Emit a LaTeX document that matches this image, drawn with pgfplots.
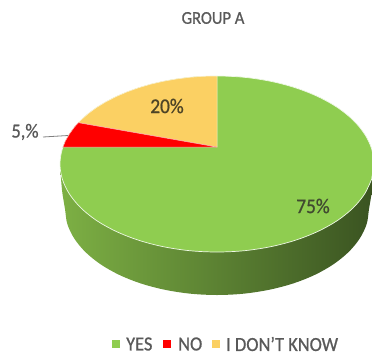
\documentclass[border=0pt]{standalone}
\usepackage{fontspec}
\setmainfont{Carlito}[FakeStretch=0.92, FakeBold=0.8]
\usepackage{pgfplots}
\pgfplotsset{compat=1.18}
\definecolor{leaf}{HTML}{8FCD50}
\definecolor{wallL}{HTML}{7DB044}
\definecolor{wallM}{HTML}{5E8134}
\definecolor{wallR}{HTML}{3A5321}
\definecolor{sun}{HTML}{FBD063}
\definecolor{ink}{HTML}{595959}
\definecolor{dark}{HTML}{404A30}
\definecolor{umber}{HTML}{4D4426}
\begin{document}
\begin{tikzpicture}
\begin{axis}[
  at={(0,0)}, anchor=south west,
  scale only axis, width=372pt, height=356pt,
  xmin=0, xmax=372, ymin=0, ymax=356, y dir=reverse,
  hide axis, clip=true,
]
% side wall of the disc
\addplot[smooth, tension=0.55, draw=none, left color=wallL, middle color=wallM, right color=wallR] coordinates {
 (60,164)(62,190)(65,209)(67.3,223.9)(74.2,238.4)(85.4,252)(100.6,264.3)(119.3,274.9)(141,283.5)(165,289.8)(190.6,293.7)(217,295)
 (243.4,293.7)(269,289.8)(293,283.5)(314.7,274.9)(333.4,264.3)(348.6,252)(359.8,238.4)(366.7,223.9)(369,209)(372,190)(374,164)} -- cycle;
% top face: YES, 75%
\addplot[smooth, tension=0.55, fill=leaf, draw=white!85!leaf, line width=0.7pt] coordinates {
 (374,164)(371.6,148.7)(364.5,133.9)(353,120)(337.3,107.4)(317.9,96.6)(295.5,87.8)(270.7,81.3)(244.3,77.3)(217,76)
 (189.7,77.3)(163.3,81.3)(138.5,87.8)(116.1,96.6)(96.7,107.4)(81,120)(69.5,133.9)(62.4,148.7)(60,164)
 (62.4,179.3)(69.5,194.1)(81,208)(96.7,220.6)(116.1,231.4)(138.5,240.2)(163.3,246.7)(189.7,250.7)(217,252)
 (244.3,250.7)(270.7,246.7)(295.5,240.2)(317.9,231.4)(337.3,220.6)(353,208)(364.5,194.1)(371.6,179.3)} -- cycle;
% I DON'T KNOW, 20%
\addplot[fill=sun, draw=white!70!sun, line width=0.5pt] coordinates {
 (217,147)(217,76)(203.3,76.3)(189.7,77.3)(176.4,79)(163.3,81.3)(150.6,84.2)(138.5,87.8)(127,91.9)(116.1,96.6)
 (106,101.8)(96.7,107.4)(88.4,113.5)(81,120)(78.4,122.7)} -- cycle;
% NO, 5%
\addplot[fill=red, draw=white!70!red, line width=0.5pt] coordinates {
 (217,147)(78.4,122.7)(74.7,126.8)(69.5,133.9)(65.3,141.2)(62.9,147.2)} -- cycle;
% leader line of the 5% label
\addplot[color=gray, line width=0.8pt] coordinates {(43,137)(68,135.5)};
% legend swatches
\addplot[only marks, mark=square*, mark size=3.5pt, color=leaf] coordinates {(116,344)};
\addplot[only marks, mark=square*, mark size=3.5pt, color=red] coordinates {(167,344)};
\addplot[only marks, mark=square*, mark size=3.5pt, color=sun] coordinates {(216,344)};
% labels
\node[text=ink, font=\fontsize{18}{18}\selectfont] at (axis cs:213,18) {GROUP A};
\node[text=umber, font=\fontsize{21}{21}\selectfont] at (axis cs:167,106) {20\%};
\node[text=dark, font=\fontsize{21}{21}\selectfont] at (axis cs:313,206) {75\%};
\node[text=ink, font=\fontsize{20}{20}\selectfont] at (axis cs:25,132) {5,\%};
\node[text=ink, font=\fontsize{20}{20}\selectfont, anchor=west, inner sep=0pt] at (axis cs:126,344) {YES};
\node[text=ink, font=\fontsize{20}{20}\selectfont, anchor=west, inner sep=0pt] at (axis cs:178,344) {NO};
\node[text=ink, font=\fontsize{20}{20}\selectfont, anchor=west, inner sep=0pt] at (axis cs:226,344) {I DON'T KNOW};
\end{axis}
\path[use as bounding box] (0,0) rectangle (372pt,356pt);
\end{tikzpicture}
\end{document}
